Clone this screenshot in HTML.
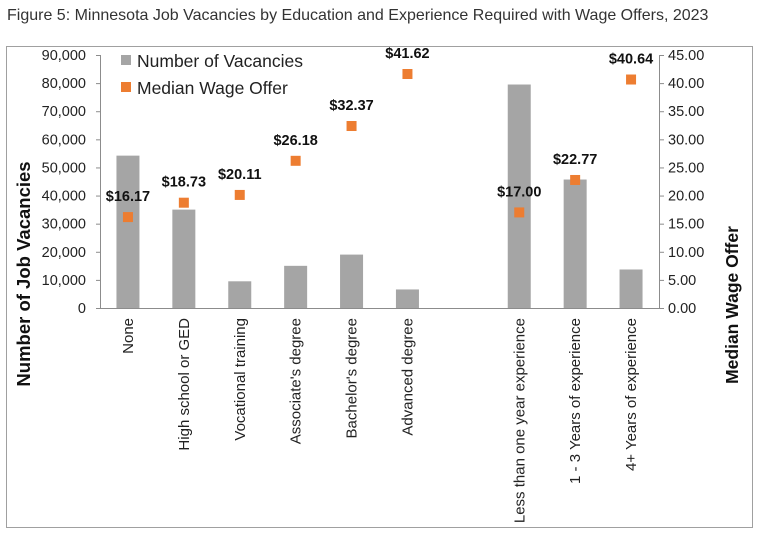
<!DOCTYPE html>
<html><head><meta charset="utf-8"><style>
body{margin:0;background:#fff;}
svg{display:block;font-family:"Liberation Sans",sans-serif;}
</style></head><body>
<svg width="760" height="537" viewBox="0 0 760 537" xmlns="http://www.w3.org/2000/svg">
<text x="7" y="20" font-size="16" fill="#333">Figure 5: Minnesota Job Vacancies by Education and Experience Required with Wage Offers, 2023</text>
<rect x="6.5" y="46.5" width="746" height="481" fill="none" stroke="#a0a0a0" stroke-width="1"/>
<g stroke="#8c8c8c" stroke-width="1">
<line x1="100.5" y1="55" x2="100.5" y2="308"/>
<line x1="659.5" y1="55" x2="659.5" y2="308"/>
<line x1="100" y1="308.5" x2="659" y2="308.5"/>
</g>
<g id="ticks" stroke="#8c8c8c" stroke-width="1"></g>
<g id="bars" fill="#a5a5a5"></g>
<g id="lbl" font-size="14.5" fill="#222"></g>
<g id="cat" font-size="15" fill="#222"></g>
<g id="pts"></g>
<rect x="121" y="55" width="10" height="10" fill="#a5a5a5"/>
<text x="137" y="67" font-size="17.5" fill="#222">Number of Vacancies</text>
<rect x="121" y="82" width="10" height="10" fill="#ed7d31"/>
<text x="137" y="94" font-size="17.5" fill="#222">Median Wage Offer</text>
<text transform="translate(30,274) rotate(-90)" text-anchor="middle" font-size="18.5" font-weight="bold" fill="#111">Number of Job Vacancies</text>
<text transform="translate(738,305) rotate(-90)" text-anchor="middle" font-size="17.5" font-weight="bold" fill="#111">Median Wage Offer</text>
<script>
var ns="http://www.w3.org/2000/svg";
function el(p,t,a,txt){var e=document.createElementNS(ns,t);for(var k in a)e.setAttribute(k,a[k]);if(txt!=null)e.textContent=txt;document.getElementById(p).appendChild(e);return e;}
var y0=308,y1=55,H=y0-y1;
for(var i=0;i<=9;i++){var y=y0-H*i/9;
el("ticks","line",{x1:96,x2:100,y1:y+0.5,y2:y+0.5});
el("ticks","line",{x1:659,x2:664,y1:y+0.5,y2:y+0.5});
el("lbl","text",{x:86,y:y+5,"text-anchor":"end"},i==0?"0":(i*10)+",000");
el("lbl","text",{x:668,y:y+5},(i*5).toFixed(2));}
var cats=["None","High school or GED","Vocational training","Associate's degree","Bachelor's degree","Advanced degree",null,"Less than one year experience","1 - 3 Years of experience","4+ Years of experience"];
var v=[54200,35000,9500,15000,19000,6600,null,79500,45700,13700];
var w=[16.17,18.73,20.11,26.18,32.37,41.62,null,17.00,22.77,40.64];
var sw=559/10;
for(var i=0;i<10;i++){if(cats[i]==null)continue;var cx=100+sw*(i+0.5);
var h=H*v[i]/90000;el("bars","rect",{x:cx-11.5,y:y0-h,width:23,height:h});
el("cat","text",{transform:"translate("+(cx+5)+",318) rotate(-90)","text-anchor":"end"},cats[i]);
var wy=y0-H*w[i]/45;
el("pts","rect",{x:cx-5,y:wy-5,width:10,height:10,fill:"#ed7d31"});
el("pts","text",{x:cx,y:wy-16,"text-anchor":"middle","font-size":"14.5","font-weight":"bold",fill:"#111"},"$"+w[i].toFixed(2));}
</script>
</svg>
</body></html>
